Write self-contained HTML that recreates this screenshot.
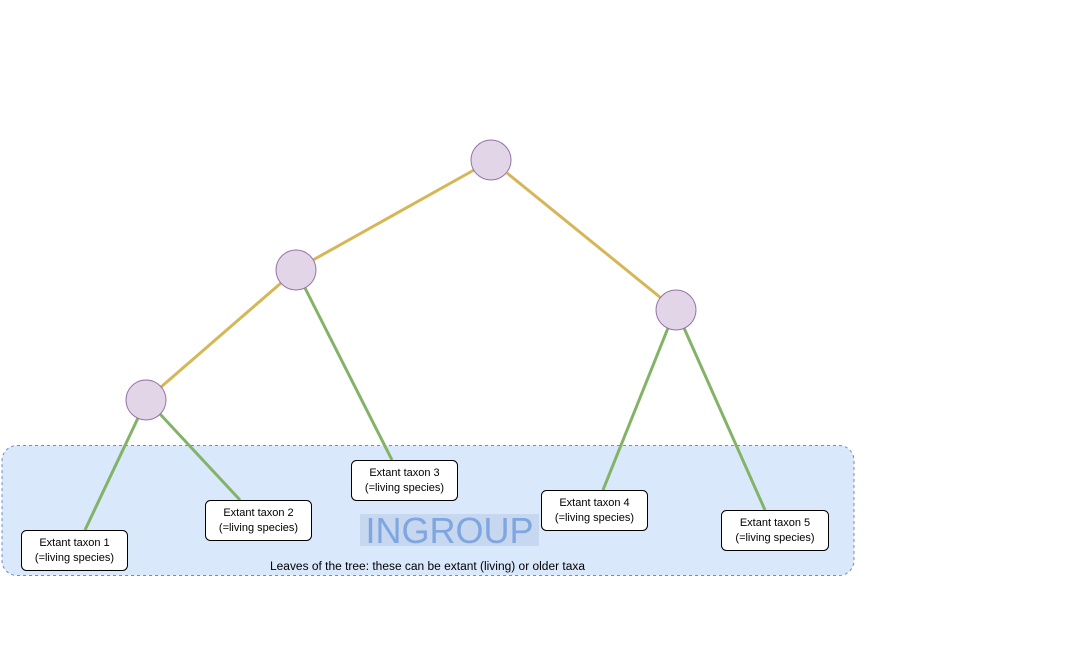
<!DOCTYPE html>
<html><head><meta charset="utf-8"><style>html,body{margin:0;padding:0;background:#fff}svg{display:block}</style></head>
<body>
<svg width="1072" height="671" viewBox="0 0 1072 671" xmlns="http://www.w3.org/2000/svg" font-family="Liberation Sans, Arial, sans-serif">
<rect x="2" y="445.5" width="852" height="130" rx="15" fill="#dae8fc" stroke="#6c8ebf" stroke-dasharray="3 3"/>
<rect x="360" y="514" width="179" height="32" fill="#c6d7ef"/>
<text x="449.5" y="543" text-anchor="middle" font-size="36" fill="#7ea6e0">INGROUP</text>
<text x="270" y="570" font-size="11.5" fill="#000" textLength="315" lengthAdjust="spacingAndGlyphs">Leaves of the tree: these can be extant (living) or older taxa</text>
<g stroke-width="3" fill="none">
<line x1="474" y1="170" x2="313" y2="260" stroke="#d6b656"/>
<line x1="507" y1="173" x2="661" y2="298" stroke="#d6b656"/>
<line x1="281" y1="283" x2="161" y2="387" stroke="#d6b656"/>
<line x1="305" y1="288" x2="392" y2="460" stroke="#82b366"/>
<line x1="138" y1="418" x2="85" y2="530" stroke="#82b366"/>
<line x1="160" y1="414" x2="240" y2="500" stroke="#82b366"/>
<line x1="668" y1="328" x2="603" y2="490" stroke="#82b366"/>
<line x1="684" y1="328" x2="765" y2="510" stroke="#82b366"/>
</g>
<g fill="#e1d5e7" stroke="#9673a6">
<circle cx="491" cy="160" r="20"/>
<circle cx="296" cy="270" r="20"/>
<circle cx="146" cy="400" r="20"/>
<circle cx="676" cy="310" r="20"/>
</g>
<g font-size="11" text-anchor="middle">
<rect x="21.5" y="530.5" width="106" height="40" rx="5" fill="#fff" stroke="#000"/>
<text x="74.5" y="546">Extant taxon 1</text><text x="74.5" y="561">(=living species)</text>
<rect x="205.5" y="500.5" width="106" height="40" rx="5" fill="#fff" stroke="#000"/>
<text x="258.5" y="516">Extant taxon 2</text><text x="258.5" y="531">(=living species)</text>
<rect x="351.5" y="460.5" width="106" height="40" rx="5" fill="#fff" stroke="#000"/>
<text x="404.5" y="476">Extant taxon 3</text><text x="404.5" y="491">(=living species)</text>
<rect x="541.5" y="490.5" width="106" height="40" rx="5" fill="#fff" stroke="#000"/>
<text x="594.5" y="506">Extant taxon 4</text><text x="594.5" y="521">(=living species)</text>
<rect x="721.5" y="510.5" width="107" height="40" rx="5" fill="#fff" stroke="#000"/>
<text x="775" y="526">Extant taxon 5</text><text x="775" y="541">(=living species)</text>
</g>
</svg>
</body></html>
